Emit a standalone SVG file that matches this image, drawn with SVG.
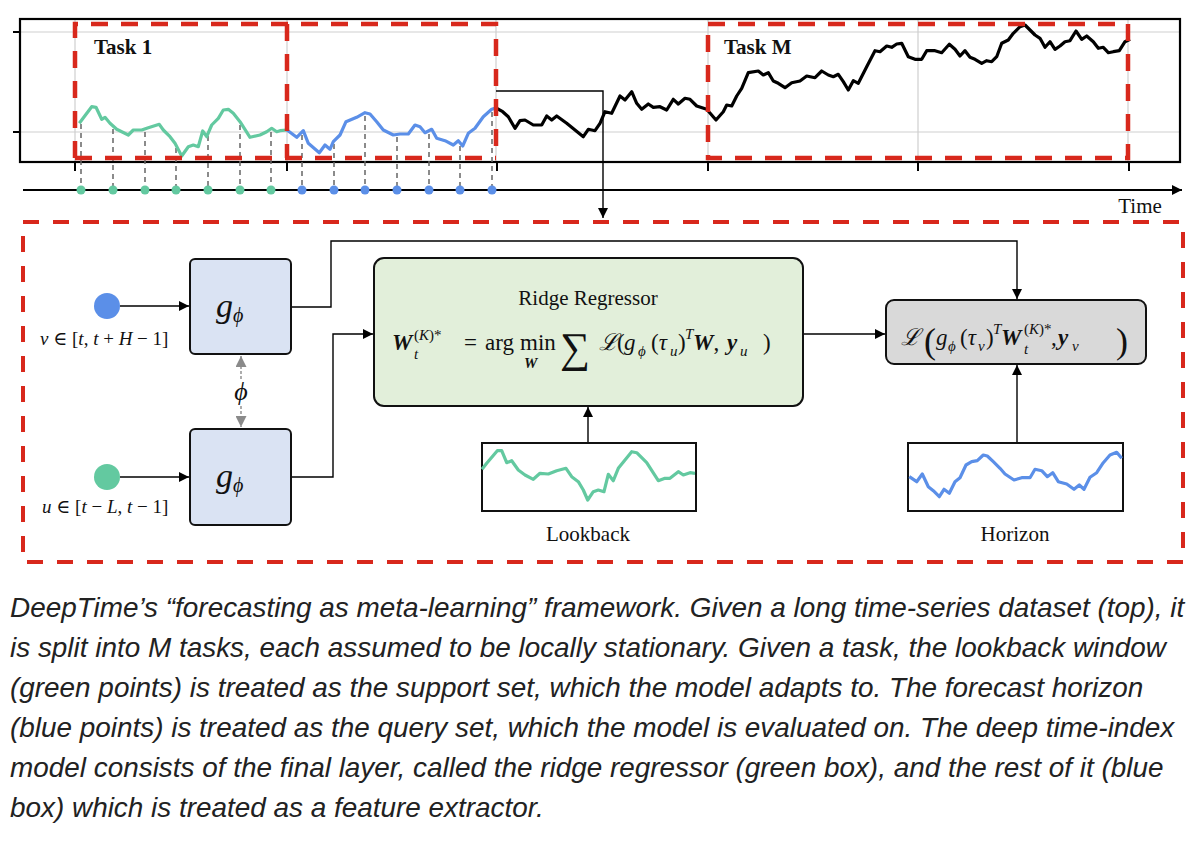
<svg xmlns="http://www.w3.org/2000/svg" width="1200" height="844" viewBox="0 0 1200 844">
<style>
.grid{stroke:#cfcfcf;stroke-width:1.2;fill:none}
.frame{stroke:#000;stroke-width:2.2;fill:none}
.red{stroke:#d8281c;stroke-width:4.5;fill:none;stroke-dasharray:17 13}
.drop{stroke:#666;stroke-width:1.5;stroke-dasharray:5 4;fill:none}
.conn{stroke:#000;stroke-width:1.4;fill:none}
.serif{font-family:"Liberation Serif","DejaVu Serif",serif;fill:#111}
.it{font-style:italic}
.bi{font-style:italic;font-weight:bold}
.cap{font-family:"Liberation Sans",Arial,sans-serif;font-style:italic;font-size:27.9px;fill:#222}
.box{stroke:#111;stroke-width:2}
</style>
<defs>
<marker id="ah" viewBox="0 0 10 10" refX="10" refY="5" markerWidth="10" markerHeight="10" markerUnits="userSpaceOnUse" orient="auto"><path d="M0,0L10,5L0,10z" fill="#000"/></marker>
<marker id="ahg" viewBox="0 0 10 10" refX="10" refY="5" markerWidth="11" markerHeight="11" markerUnits="userSpaceOnUse" orient="auto-start-reverse"><path d="M0,0L10,5L0,10z" fill="#8a8a8a"/></marker>
</defs>
<rect width="1200" height="844" fill="#fff"/>

<g id="timeseries">
<line class="grid" x1="20" y1="32" x2="1180" y2="32"/>
<line class="grid" x1="20" y1="132" x2="1180" y2="132"/>
<g class="grid">
<line x1="75" y1="19" x2="75" y2="162"/><line x1="287" y1="19" x2="287" y2="162"/><line x1="496" y1="19" x2="496" y2="162"/><line x1="708" y1="19" x2="708" y2="162"/><line x1="918" y1="19" x2="918" y2="162"/><line x1="1128" y1="19" x2="1128" y2="162"/>
</g>
<rect class="frame" x="20" y="19" width="1160" height="143"/>
<g stroke="#000" stroke-width="2">
<line x1="13" y1="32" x2="20" y2="32"/><line x1="13" y1="132" x2="20" y2="132"/>
<line x1="75" y1="162" x2="75" y2="171"/><line x1="287" y1="162" x2="287" y2="171"/><line x1="497" y1="162" x2="497" y2="171"/><line x1="708" y1="162" x2="708" y2="171"/><line x1="918" y1="162" x2="918" y2="171"/><line x1="1129" y1="162" x2="1129" y2="171"/>
</g>
<g class="drop">
<line x1="81" y1="124" x2="81" y2="186"/><line x1="113" y1="129" x2="113" y2="186"/><line x1="145" y1="132" x2="145" y2="186"/><line x1="176" y1="148" x2="176" y2="186"/><line x1="208" y1="136" x2="208" y2="186"/><line x1="240" y1="125" x2="240" y2="186"/><line x1="271" y1="132" x2="271" y2="186"/>
<line x1="302" y1="135" x2="302" y2="186"/><line x1="334" y1="144" x2="334" y2="186"/><line x1="365" y1="116" x2="365" y2="186"/><line x1="397" y1="137" x2="397" y2="186"/><line x1="429" y1="134" x2="429" y2="186"/><line x1="460" y1="146" x2="460" y2="186"/><line x1="492" y1="112" x2="492" y2="186"/>
</g>
<polyline fill="none" stroke="#63c9a0" stroke-width="3.2" stroke-linejoin="round" points="79.3,123.3 91.7,106.7 96,107.3 101.7,119.3 105,117.3 110,123.3 116.7,129.3 128.3,135 133.3,130 141.7,130 148.3,127.7 159.3,124.3 163.3,130 170,136.7 175,143.3 181.7,156 188.3,146.7 193.3,145 198.3,146.7 202.7,131 206.7,136.7 211.7,125 218.3,118.3 223.3,110 228.3,109.3 233.3,113.3 240,121.7 250,137.3 260,135 266.7,131.7 271.7,128.3 276.7,131.7 280,130.7 287,130"/>
<polyline fill="none" stroke="#5b8fe8" stroke-width="3.2" stroke-linejoin="round" points="287,130 296.7,137.3 303.3,130.7 308.3,143.3 319.3,152.7 325,145 330,149.3 333.3,141.7 340,135 346,121.7 356.7,117.3 365,112.7 370,114 376.7,121.7 383.3,130 393.3,135 400,134 408.3,134 415,125 420,126.7 425,132.7 431.7,129.3 436.7,138.3 445,140.7 453.3,145 458.3,140.7 462.7,146 468.3,133.3 475,128.3 483.3,116.7 491.7,109.3 496,108"/>
<polyline fill="none" stroke="#000" stroke-width="3.2" stroke-linejoin="round" points="496,108 502.7,111.7 508.3,116.7 515,128.3 520,120.7 525,120 533.3,125 541.7,125 546.7,116 551.7,120 556.7,116 566.7,123.3 575,130 583.3,136.7 588.3,129.3 595,130.7 600,123.3 605,111.7 611.7,113.3 620,96 625,100 631.7,91.7 636.7,103.3 641.7,109.3 648.3,104 653.3,107.3 660,106.7 666.7,110 673.3,99.3 678.3,104 685,98.3 690,99.3 696.7,106 706.7,109.3 716,120 723.3,111.7 726.7,105 731.7,106 736.7,96 741.7,88.3 748.3,72.7 758.3,71 763.3,75 768.3,72.7 773.3,81 778.3,83.3 785,87.7 791.7,82.7 800,81 806.7,76 815,77.7 821.7,71 828.3,75 833.3,76.7 838.3,74.3 843.3,81.7 848.3,90 853.3,80.7 858.3,83.3 866.7,66.7 875,50.7 880,51.7 886.7,46 891.7,47.3 896.7,44 901.7,43.3 908.3,56.7 915,59.3 921.7,59.3 926.7,50.7 935,50.7 941.7,52.7 949.3,44.3 955,49.3 960,56 965,50.7 970,57.3 975,59.3 981.7,63.3 986.7,60.7 991.7,61.7 996.7,56.7 1001.7,43.3 1008.3,40 1013.3,33.3 1020,26.7 1025,25 1030,30 1035,35 1040,38.3 1045,47.3 1050,41.7 1055,49.3 1060,46 1065,41.7 1070,40.7 1076,31 1081.7,39.3 1086.7,36 1093.3,41.7 1098.3,48.3 1103.3,47.3 1108.3,52.7 1113.3,51.7 1119.3,50.7 1125,41.7 1130,39.3"/>
<g class="red">
<path d="M75,158V24H496V158"/><path d="M75,158H496"/><path d="M287,24V158"/>
<rect x="708" y="24" width="420" height="134"/>
</g>
<text class="serif" x="94" y="54" font-size="21" font-weight="bold">Task 1</text>
<text class="serif" x="724" y="54" font-size="21" font-weight="bold">Task M</text>
<line x1="23" y1="190" x2="1182" y2="190" stroke="#000" stroke-width="2.2" marker-end="url(#ah)"/>
<text class="serif" x="1140" y="213" font-size="21" text-anchor="middle">Time</text>
<g fill="#63c9a0">
<circle cx="81" cy="190" r="4.5"/><circle cx="113" cy="190" r="4.5"/><circle cx="145" cy="190" r="4.5"/><circle cx="176" cy="190" r="4.5"/><circle cx="208" cy="190" r="4.5"/><circle cx="240" cy="190" r="4.5"/><circle cx="271" cy="190" r="4.5"/>
</g>
<g fill="#5b8fe8">
<circle cx="302" cy="190" r="4.5"/><circle cx="334" cy="190" r="4.5"/><circle cx="365" cy="190" r="4.5"/><circle cx="397" cy="190" r="4.5"/><circle cx="429" cy="190" r="4.5"/><circle cx="460" cy="190" r="4.5"/><circle cx="492" cy="190" r="4.5"/>
</g>
</g>

<g id="task-frame">
<rect x="23" y="222" width="1160" height="340" fill="none" stroke="#d8281c" stroke-width="4" stroke-dasharray="16 14"/>
</g>

<g id="connectors">
<path class="conn" d="M496,91H603V218" marker-end="url(#ah)"/>
<line class="conn" x1="120" y1="306" x2="189" y2="306" marker-end="url(#ah)"/>
<line class="conn" x1="120" y1="477" x2="189" y2="477" marker-end="url(#ah)"/>
<path class="conn" d="M291,307H331V241H1017V299" stroke="#444"/>
<path d="M1012,289L1017,299L1022,289z" fill="#000"/>
<path class="conn" d="M291,477H333V334H373" marker-end="url(#ah)"/>
<line class="conn" x1="803" y1="334" x2="885" y2="334" marker-end="url(#ah)"/>
<line class="conn" x1="588" y1="443" x2="588" y2="407" marker-end="url(#ah)"/>
<line class="conn" x1="1017" y1="443" x2="1017" y2="365" marker-end="url(#ah)"/>
<line x1="241" y1="356" x2="241" y2="427" stroke="#8a8a8a" stroke-width="1.4" stroke-dasharray="3 2" marker-start="url(#ahg)" marker-end="url(#ahg)"/>
</g>

<g id="input-v">
<circle cx="107" cy="306" r="13" fill="#5b8fe8"/>
<text class="serif" x="40" y="345" font-size="19"><tspan class="it">v</tspan> ∈ [<tspan class="it">t</tspan>, <tspan class="it">t</tspan> + <tspan class="it">H</tspan> − 1]</text>
</g>
<g id="input-u">
<circle cx="107" cy="477" r="13" fill="#63c9a0"/>
<text class="serif" x="42" y="513" font-size="19"><tspan class="it">u</tspan> ∈ [<tspan class="it">t</tspan> − <tspan class="it">L</tspan>, <tspan class="it">t</tspan> − 1]</text>
</g>

<g id="g-phi-top">
<rect class="box" x="190" y="259" width="101" height="95" rx="5" fill="#dae3f3"/>
<text class="serif it" x="216" y="317" font-size="34">g<tspan font-size="20" dy="5">ϕ</tspan></text>
</g>
<g id="g-phi-bottom">
<rect class="box" x="190" y="429" width="101" height="96" rx="5" fill="#dae3f3"/>
<text class="serif it" x="216" y="487" font-size="34">g<tspan font-size="20" dy="5">ϕ</tspan></text>
</g>
<g id="phi-label">
<rect x="231" y="380" width="20" height="26" fill="#fff"/>
<text class="serif it" x="241" y="400" font-size="26" text-anchor="middle">ϕ</text>
</g>

<g id="ridge-regressor">
<rect class="box" x="374" y="258" width="429" height="148" rx="10" fill="#e2efda"/>
<text class="serif" x="588" y="305" font-size="21" text-anchor="middle">Ridge Regressor</text>
<g class="serif" font-size="23">
<text class="bi" x="392" y="350">W</text>
<text class="it" x="414" y="359" font-size="15">t</text>
<text x="414" y="340" font-size="15">(<tspan class="it">K</tspan>)*</text>
<text x="464" y="350">=</text>
<text x="485" y="350">arg</text>
<text x="520" y="350">min</text>
<text class="bi" x="524" y="368" font-size="15">W</text>
<text x="560" y="362" font-size="42">∑</text>
<text class="it" x="599" y="350">ℒ</text>
<text x="617" y="350">(</text>
<text class="it" x="624" y="350">g</text>
<text class="it" x="638" y="356" font-size="15">ϕ</text>
<text x="651" y="350">(<tspan class="it">τ</tspan></text>
<text class="it" x="670" y="356" font-size="15">u</text>
<text x="678" y="350">)</text>
<text class="it" x="685" y="339" font-size="15">T</text>
<text x="693" y="350"><tspan class="bi">W</tspan>,</text>
<text class="bi" x="727" y="350">y</text>
<text class="it" x="740" y="356" font-size="15">u</text>
<text x="763" y="350">)</text>
</g>
</g>

<g id="loss">
<rect class="box" x="886" y="300" width="260" height="64" rx="8" fill="#d9d9d9"/>
<g class="serif" font-size="23">
<text class="it" x="901" y="345">ℒ</text>
<text x="924" y="353" font-size="36">(</text>
<text class="it" x="936" y="345">g</text>
<text class="it" x="948" y="351" font-size="15">ϕ</text>
<text x="960" y="345">(<tspan class="it">τ</tspan></text>
<text class="it" x="978" y="351" font-size="15">v</text>
<text x="986" y="345">)</text>
<text class="it" x="993" y="334" font-size="15">T</text>
<text class="bi" x="1001" y="345">W</text>
<text class="it" x="1024" y="354" font-size="15">t</text>
<text x="1024" y="334" font-size="15">(<tspan class="it">K</tspan>)*</text>
<text x="1051" y="345">,</text>
<text class="bi" x="1058" y="345">y</text>
<text class="it" x="1072" y="351" font-size="15">v</text>
<text x="1116" y="353" font-size="36">)</text>
</g>
</g>

<g id="lookback">
<rect x="482" y="443" width="214" height="68" fill="#fff" stroke="#111" stroke-width="2"/>
<polyline fill="none" stroke="#63c9a0" stroke-width="3.2" stroke-linejoin="round" points="482,469.3 486.7,463.3 497.3,450.7 501.7,450.7 506.7,462.7 511.7,460.7 518.3,470 525,475 533.3,479.3 540,473.3 548.3,474 556.7,470.7 566,468.3 571.7,476.7 578.3,481.7 583.3,490 587.7,500 593.3,491.7 598.3,490 604,491.7 608.3,474.3 613.3,480.7 618.3,468.3 625,460 631.7,451.7 636.7,452.7 646.7,462.7 658.3,480.7 665,478.3 670,478.3 678.3,471.7 683.3,475 690,472.7 695,473.3"/>
<text class="serif" x="588" y="541" font-size="21" text-anchor="middle">Lookback</text>
</g>

<g id="horizon">
<rect x="908" y="443" width="215" height="68" fill="#fff" stroke="#111" stroke-width="2"/>
<polyline fill="none" stroke="#5b8fe8" stroke-width="3.2" stroke-linejoin="round" points="909.3,476.7 916.7,481.7 922.3,474 928.3,486.7 933.3,490.7 939.3,496.7 944,489.3 949.3,493.3 955,481.7 960,477.7 966,465 971.7,461.7 977.3,460.7 983.3,455 987.3,456 993.3,461.7 1000,468.3 1005,474 1014,480 1021.7,477.7 1030,477.7 1035,469.3 1041.7,470.7 1047.3,476.7 1052.7,472.7 1058.3,481.7 1066.7,484 1074,489.3 1079.3,485 1084,489.3 1090,477.3 1096.7,472.7 1103.3,462.7 1110,455 1116.7,452.3 1121.7,458.3"/>
<text class="serif" x="1015" y="541" font-size="21" text-anchor="middle">Horizon</text>
</g>

<g id="caption" class="cap">
<text x="10" y="617">DeepTime’s “forecasting as meta-learning” framework. Given a long time-series dataset (top), it</text>
<text x="10" y="657">is split into M tasks, each assumed to be locally stationary. Given a task, the lookback window</text>
<text x="10" y="697">(green points) is treated as the support set, which the model adapts to. The forecast horizon</text>
<text x="10" y="737">(blue points) is treated as the query set, which the model is evaluated on. The deep time-index</text>
<text x="10" y="777">model consists of the final layer, called the ridge regressor (green box), and the rest of it (blue</text>
<text x="10" y="817">box) which is treated as a feature extractor.</text>
</g>
</svg>
